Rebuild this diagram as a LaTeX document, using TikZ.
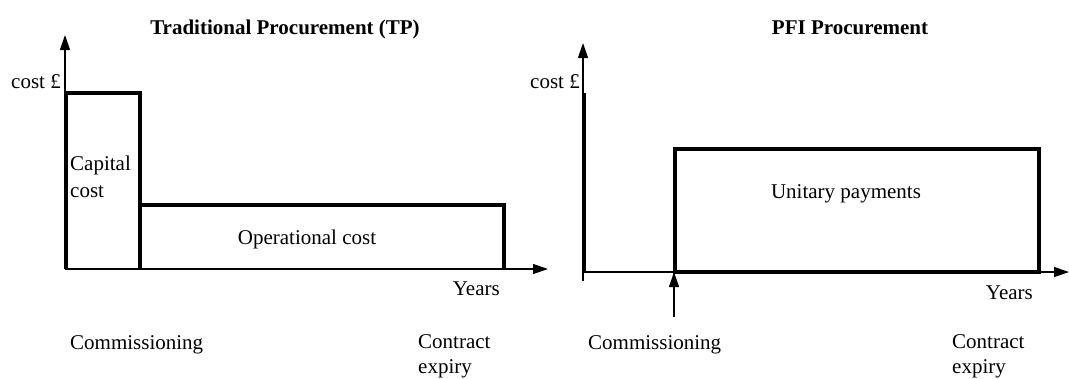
\documentclass[tikz,border=0pt]{standalone}
\usepackage{fontspec}
\setmainfont{Liberation Serif}
\usetikzlibrary{arrows.meta}
\begin{document}
\begin{tikzpicture}[x=1pt,y=-1pt,
  font=\fontsize{21}{25}\selectfont,
  axisline/.style={line width=1.2pt},
  bar/.style={line width=3.2pt},
  tipped/.style={-{Triangle[length=15pt,width=10pt]}},
  lbl/.style={inner sep=0pt}]
\useasboundingbox (0,0) rectangle (1069,378);

% ---------- left chart ----------
\coordinate (O1) at (65,269);
\coordinate (Y1) at (65,35);
\coordinate (X1) at (548,269);
\draw[axisline,tipped] (O1) -- (Y1);
\draw[axisline,tipped] (O1) -- (X1);

\coordinate (c1) at (66.5,269);
\coordinate (c2) at (66.5,93);
\coordinate (c3) at (140,93);
\coordinate (c4) at (140,269);
\draw[bar] (c1) -- (c2) -- (c3) -- (c4);

\coordinate (o1) at (140,205);
\coordinate (o2) at (504,205);
\coordinate (o3) at (504,269);
\draw[bar] (o1) -- (o2) -- (o3);

\node[lbl,anchor=base] (t1) at (285,34) {\bfseries Traditional Procurement (TP)};
\node[lbl,anchor=base east] (cost1) at (61,88) {cost £};
\node[lbl,anchor=base west] (cap1) at (70,170) {Capital};
\node[lbl,anchor=base west] (cap2) at (70,197) {cost};
\node[lbl,anchor=base] (op) at (307,244) {Operational cost};
\node[lbl,anchor=base east] (yr1) at (500,295) {Years};
\node[lbl,anchor=base west] (com1) at (70,349) {Commissioning};
\node[lbl,anchor=base west] (con1) at (418,348) {Contract};
\node[lbl,anchor=base west] (exp1) at (418,373) {expiry};

% ---------- right chart ----------
\coordinate (O2) at (583,272);
\coordinate (Y2) at (583,43);
\coordinate (X2) at (1069,272);
\coordinate (tk) at (583,281);
\draw[axisline] (tk) -- (O2);
\draw[axisline,tipped] (O2) -- (Y2);
\draw[axisline,tipped] (O2) -- (X2);

\coordinate (v1) at (584.5,93);
\coordinate (v2) at (584.5,272);
\draw[bar] (v1) -- (v2);

\coordinate (u1) at (675,149);
\coordinate (u2) at (1039,272);
\draw[bar] (u1) rectangle (u2);

\coordinate (a1) at (674,317);
\coordinate (a2) at (674,272);
\draw[axisline,tipped] (a1) -- (a2);

\node[lbl,anchor=base] (t2) at (850,34) {\bfseries PFI Procurement};
\node[lbl,anchor=base east] (cost2) at (580,88) {cost £};
\node[lbl,anchor=base] (up) at (846,198) {Unitary payments};
\node[lbl,anchor=base east] (yr2) at (1033,299) {Years};
\node[lbl,anchor=base west] (com2) at (588,349) {Commissioning};
\node[lbl,anchor=base west] (con2) at (952,348) {Contract};
\node[lbl,anchor=base west] (exp2) at (952,373) {expiry};
\end{tikzpicture}
\end{document}
